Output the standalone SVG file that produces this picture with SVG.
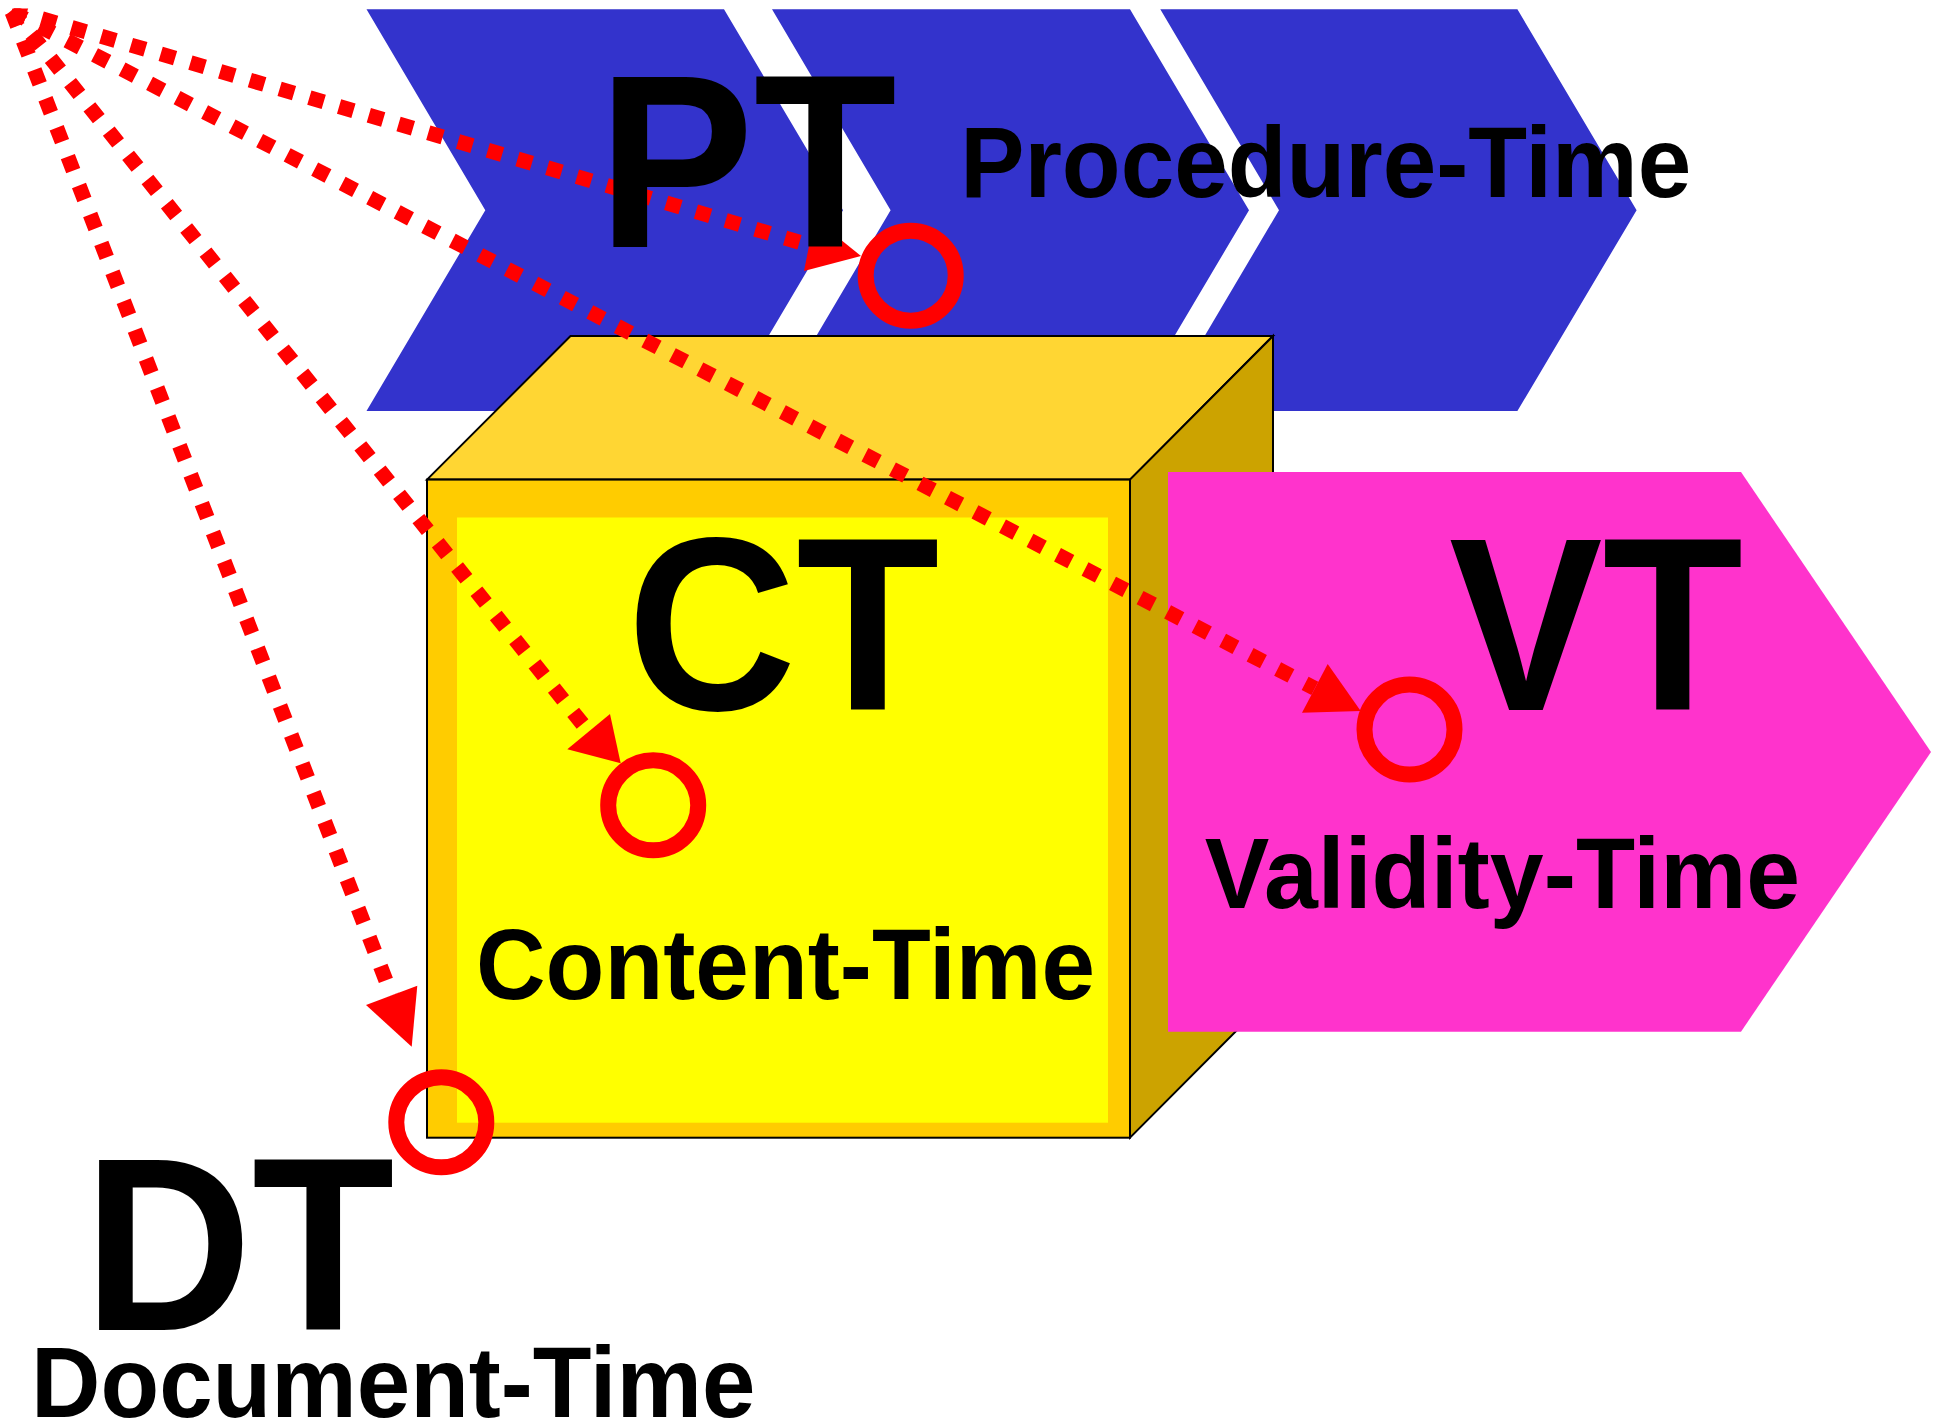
<svg xmlns="http://www.w3.org/2000/svg" width="1937" height="1425" viewBox="0 0 1937 1425">
  <defs>
    <style>
      .chev { fill: #3333CC; }
      .edge { stroke: #000; stroke-width: 2; stroke-linejoin: miter; }
      .dot { fill: none; stroke: #FF0000; stroke-width: 15; stroke-dasharray: 15 16; stroke-linecap: butt; }
      .head { fill: #FF0000; }
      .ring { fill: none; stroke: #FF0000; stroke-width: 16; }
      .big { font-family: "Liberation Sans", Arial, Helvetica, sans-serif; font-weight: bold; font-size: 247px; fill: #000; }
      .lbl { font-family: "Liberation Sans", Arial, Helvetica, sans-serif; font-weight: bold; font-size: 100px; fill: #000; }
    </style>
    <clipPath id="topclip">
      <rect x="0" y="8.5" width="1937" height="1417"/>
    </clipPath>
  </defs>
  <rect x="0" y="0" width="1937" height="1425" fill="#FFFFFF"/>

  <g id="procedure-time">
    <polygon class="chev" points="366.5,9.3 724,9.3 843,210.2 724,411 366.5,411 485.3,210.2"/>
    <polygon class="chev" points="772,9.3 1130,9.3 1249,210.2 1130,411 772,411 890.6,210.2"/>
    <polygon class="chev" points="1160.3,9.3 1517.4,9.3 1636.6,210.2 1517.4,411 1160.3,411 1279,210.2"/>
  </g>

  <g id="content-time">
    <polygon class="edge" fill="#FFD633" points="427,479.6 570.5,336 1273,336 1130,479.6"/>
    <polygon class="edge" fill="#CCA300" points="1130,479.6 1273,336 1273,994 1130,1137.7"/>
    <rect class="edge" fill="#FFCC00" x="427" y="479.6" width="703" height="658.1"/>
    <rect fill="#FFFF00" x="457" y="517.5" width="651" height="605.2"/>
  </g>

  <g id="validity-time">
    <polygon fill="#FF33CC" points="1168,472 1741,472 1931,752 1741,1031.7 1168,1031.7"/>
  </g>

  <g id="connectors" clip-path="url(#topclip)">
    <line class="dot" x1="12" y1="10" x2="809" y2="245"/>
    <line class="dot" x1="12" y1="12" x2="1314.8" y2="688.3"/>
    <line class="dot" x1="12" y1="10" x2="588.5" y2="731.5"/>
    <line class="dot" x1="12" y1="12" x2="391.7" y2="995.4"/>
    <polygon class="head" points="814.5,218.6 861,256 804,271"/>
    <polygon class="head" points="1327.7,664 1360.7,711 1302,712.7"/>
    <polygon class="head" points="610,714 620.7,763.3 567.3,749.3"/>
    <polygon class="head" points="366,1005 417.3,985.7 411.7,1046.7"/>
  </g>

  <g id="anchors">
    <circle class="ring" cx="910.7" cy="275.7" r="45"/>
    <circle class="ring" cx="653.2" cy="805.3" r="45"/>
    <circle class="ring" cx="1409.5" cy="729.6" r="45"/>
    <circle class="ring" cx="441.3" cy="1122.3" r="45"/>
  </g>

  <g id="labels">
    <text class="big" x="597.7" y="247" textLength="299" lengthAdjust="spacingAndGlyphs">PT</text>
    <text class="lbl" x="960.2" y="196.7" textLength="731" lengthAdjust="spacingAndGlyphs">Procedure-Time</text>
    <text class="big" x="627" y="710" textLength="312.5" lengthAdjust="spacingAndGlyphs">CT</text>
    <text class="lbl" x="476" y="999" textLength="619" lengthAdjust="spacingAndGlyphs">Content-Time</text>
    <text class="big" x="1449" y="710" textLength="294" lengthAdjust="spacingAndGlyphs">VT</text>
    <text class="lbl" x="1204.7" y="907.7" textLength="595.5" lengthAdjust="spacingAndGlyphs">Validity-Time</text>
    <text class="big" x="83.6" y="1330" textLength="311" lengthAdjust="spacingAndGlyphs">DT</text>
    <text class="lbl" x="31.1" y="1417.2" textLength="724.3" lengthAdjust="spacingAndGlyphs">Document-Time</text>
  </g>
</svg>
